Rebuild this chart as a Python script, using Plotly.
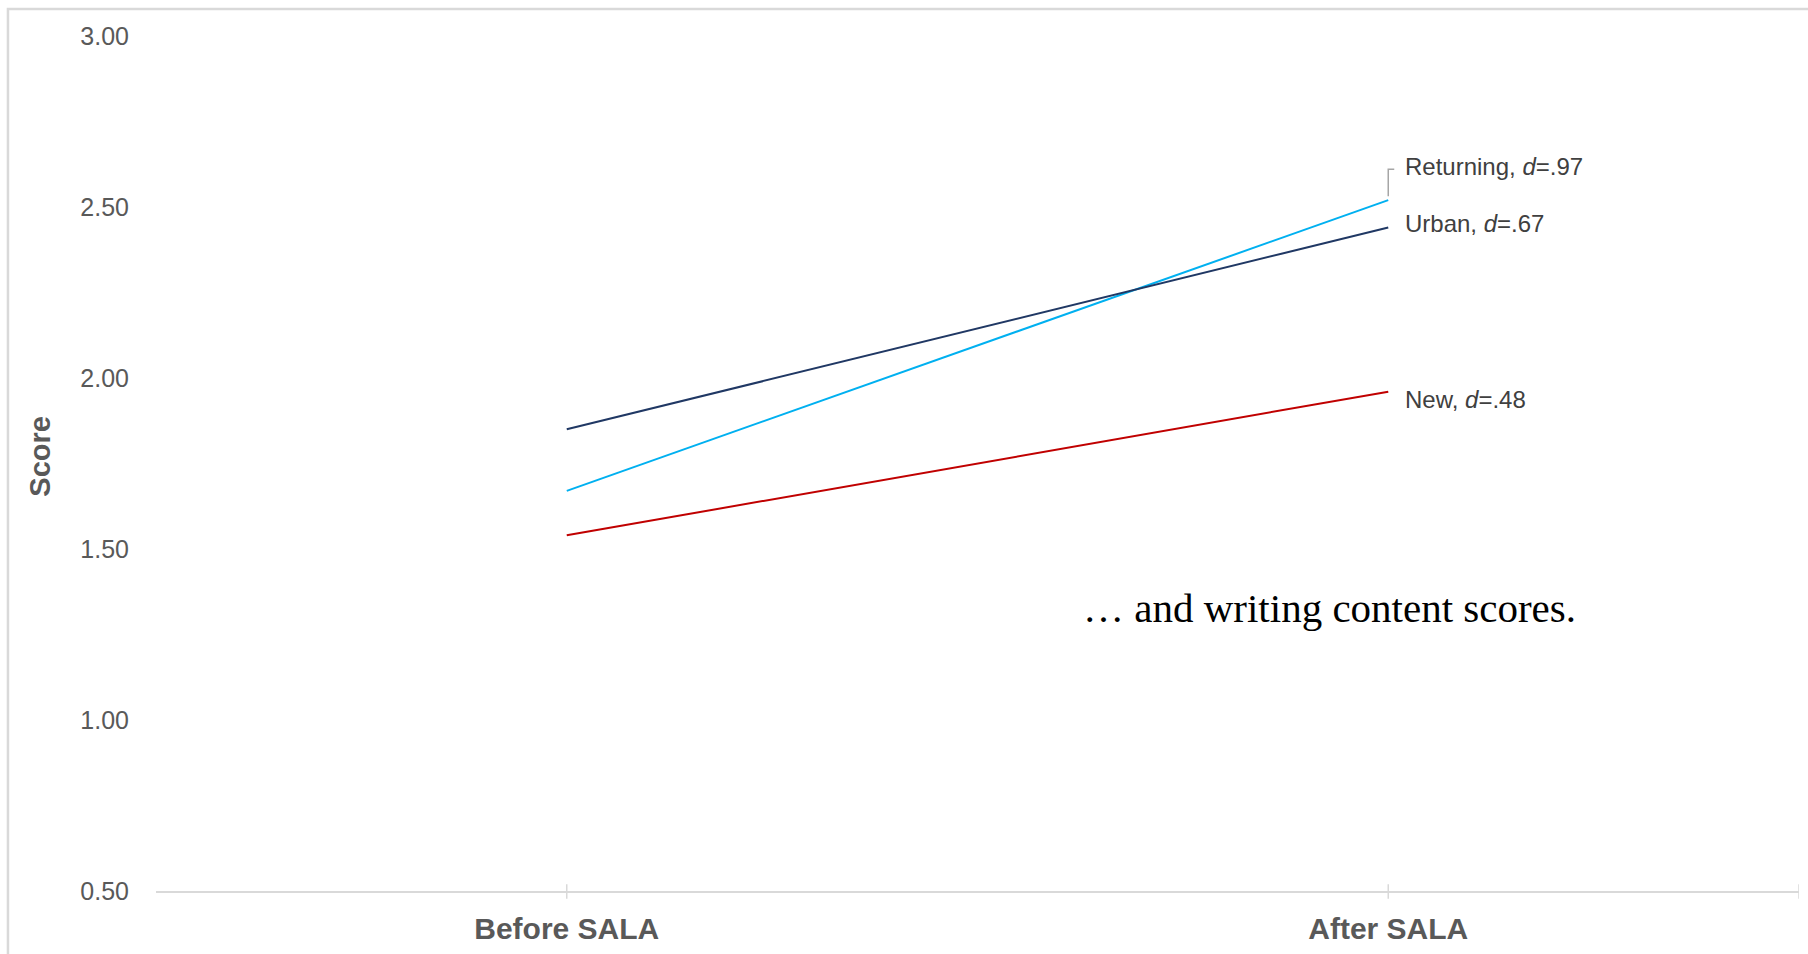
import plotly.graph_objects as go

categories = ["Before SALA", "After SALA"]
returning = [1.67, 2.52]
urban = [1.85, 2.44]
new = [1.54, 1.96]
series_names = ["Returning", "Urban", "New"]
effect_sizes = [".97", ".67", ".48"]
y_ticks = [0.5, 1.0, 1.5, 2.0, 2.5, 3.0]

colors = {"Returning": "#00B0F0", "Urban": "#203864", "New": "#C00000"}
FONT = "Liberation Sans, Arial, sans-serif"
GRAY = "#595959"

x_idx = list(range(len(categories)))
fig = go.Figure()
for name, vals in zip(series_names, [returning, urban, new]):
    fig.add_trace(go.Scatter(x=x_idx, y=vals, mode="lines", name=name,
                             line=dict(color=colors[name], width=2),
                             hoverinfo="skip"))

# end labels
yshifts = {"Returning": 34, "Urban": 4, "New": -8}
for name, vals, d in zip(series_names, [returning, urban, new], effect_sizes):
    fig.add_annotation(x=x_idx[-1], y=vals[-1], xref="x", yref="y",
                       text=f"{name}, <i>d</i>=.{d[1:]}", showarrow=False,
                       xanchor="left", yanchor="middle", xshift=15,
                       yshift=yshifts[name],
                       font=dict(family=FONT, size=24, color="#404040"))

# leader line for Returning label
fig.add_shape(type="path", xref="x", yref="y", xsizemode="pixel", ysizemode="pixel",
              xanchor=x_idx[-1], yanchor=returning[-1],
              path="M0,4 L0,31 L6,31", line=dict(color="#A6A6A6", width=1.5))

# x-axis tick marks crossing the axis
for xv in [0, 1, 1.5]:
    fig.add_shape(type="line", xref="x", yref="paper", x0=xv, x1=xv,
                  y0=-0.009, y1=0.008, line=dict(color="#D9D9D9", width=1.5))

# chart frame
fig.add_shape(type="rect", xref="paper", yref="paper", x0=-0.0901, x1=1.2,
              y0=-0.3, y1=1.0316, line=dict(color="#D9D9D9", width=2.5), layer="below")

# axis title
fig.add_annotation(text="<b>Score</b>", xref="paper", yref="paper", x=-0.0706, y=0.508,
                   textangle=-90, showarrow=False, xanchor="center", yanchor="middle",
                   font=dict(family=FONT, size=29, color=GRAY))

# caption
fig.add_annotation(text="\u2026 and writing content scores.", xref="paper", yref="paper",
                   x=0.7145, y=0.331, showarrow=False, xanchor="center", yanchor="middle",
                   font=dict(family="Liberation Serif, Times New Roman, serif", size=41,
                             color="#000000"))

fig.update_layout(
    width=1808, height=954,
    margin=dict(l=156, r=9, t=36, b=63, autoexpand=False),
    paper_bgcolor="white", plot_bgcolor="white",
    showlegend=False,
    xaxis=dict(range=[-0.5, 1.5], tickvals=x_idx, ticktext=categories,
               showgrid=False, zeroline=False, showline=True,
               linecolor="#D9D9D9", linewidth=2, ticks="",
               automargin=False, ticklabelstandoff=10,
               tickfont=dict(family=FONT, size=30, color=GRAY, weight="bold")),
    yaxis=dict(range=[0.5, 3.0], tickvals=y_ticks,
               ticktext=[f"{v:.2f}" for v in y_ticks],
               showgrid=False, zeroline=False, showline=False, ticks="",
               automargin=False, ticklabelstandoff=26,
               tickfont=dict(family=FONT, size=25, color=GRAY)),
)

fig.write_html("out.html")
